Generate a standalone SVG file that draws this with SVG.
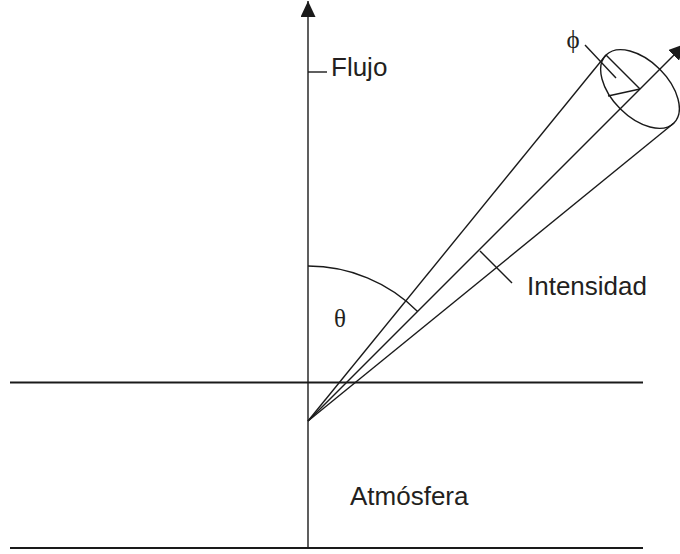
<svg xmlns="http://www.w3.org/2000/svg" width="680" height="554" viewBox="0 0 680 554">
<style>
.ln{stroke:#1a1a1a;stroke-width:1.4;fill:none}
.hz{stroke:#1a1a1a;stroke-width:1.9;fill:none}
.sans{font-family:"Liberation Sans",Arial,sans-serif;font-size:26px;fill:#231f20}
.serif{font-family:"Liberation Serif","Times New Roman",serif;font-size:25px;fill:#231f20}
</style>
<defs>
<marker id="ah" viewBox="0 0 16 15" refX="16" refY="7.5" markerWidth="16" markerHeight="15" markerUnits="userSpaceOnUse" orient="auto">
<path d="M0,0 L16,7.5 L0,15 Z" fill="#1a1a1a"/>
</marker>
</defs>
<rect width="680" height="554" fill="#fff"/>
<g id="connectors">
<line class="hz" x1="10" y1="382.5" x2="643" y2="382.5"/>
<line class="hz" x1="10" y1="548" x2="643" y2="548"/>
<line class="ln" x1="308" y1="548" x2="308" y2="1" marker-end="url(#ah)"/>
<line class="ln" x1="308" y1="421" x2="685" y2="44" marker-end="url(#ah)"/>
<line class="ln" x1="308" y1="421" x2="606" y2="55"/>
<line class="ln" x1="308" y1="421" x2="674" y2="123"/>
<path class="ln" d="M308,266 A155,155 0 0 1 417.6,311.4"/>
<line class="ln" x1="308" y1="72" x2="327" y2="72"/>
<line class="ln" x1="480" y1="251" x2="512" y2="283"/>
<line class="ln" x1="585" y1="45" x2="616" y2="78"/>
</g>
<g id="cone-end">
<ellipse class="ln" cx="640" cy="89" rx="48" ry="28" transform="rotate(45 640 89)"/>
<line class="ln" x1="640" y1="89" x2="606" y2="55"/>
<line class="ln" x1="640" y1="89" x2="608" y2="96"/>
</g>
<g id="label-flujo"><text class="sans" x="331" y="76">Flujo</text></g>
<g id="label-intensidad"><text class="sans" x="527" y="295">Intensidad</text></g>
<g id="label-atmosfera"><text class="sans" x="350" y="505">Atmósfera</text></g>
<g id="label-theta"><text class="serif" x="340" y="327" text-anchor="middle">θ</text></g>
<g id="label-phi"><text class="serif" x="573" y="48" text-anchor="middle">ϕ</text></g>
</svg>
